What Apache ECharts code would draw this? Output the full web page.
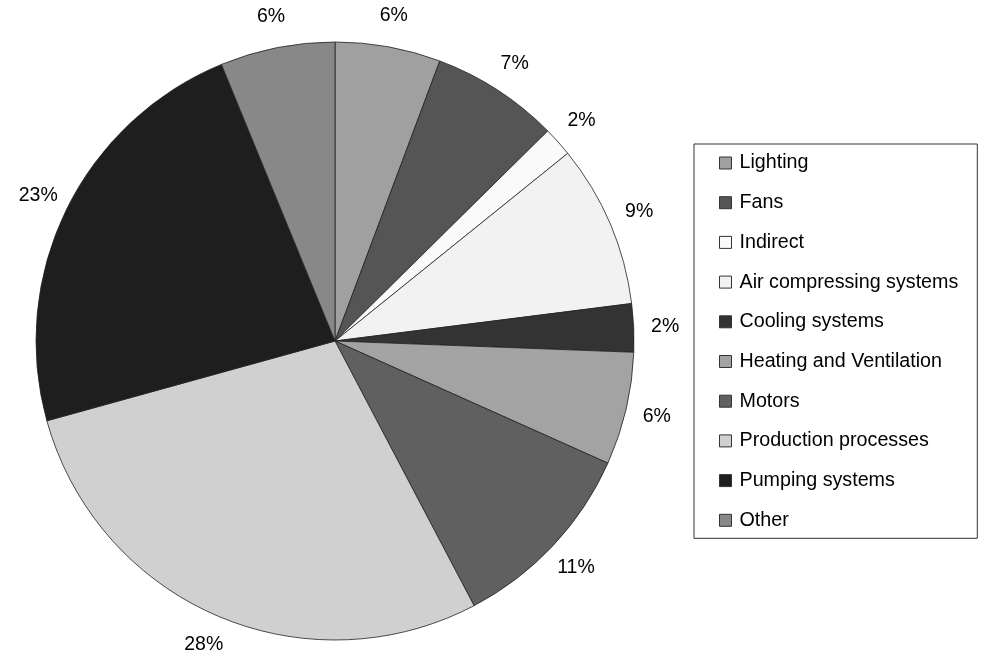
<!DOCTYPE html>
<html>
<head>
<meta charset="utf-8">
<script src="https://cdn.jsdelivr.net/npm/echarts@6/dist/echarts.min.js"></script>
<style>
  html, body { margin: 0; padding: 0; background: #fff; }
  #main { width: 988px; height: 654px; }
</style>
</head>
<body>
<div id="main"></div>
<script>
// categories and shares (percent), read clockwise from 12 o'clock
const categories = [
  "Lighting", "Fans", "Indirect", "Air compressing systems", "Cooling systems",
  "Heating and Ventilation", "Motors", "Production processes", "Pumping systems", "Other"
];
const shares = [5.7, 6.9, 1.6, 8.8, 2.6, 6.1, 10.6, 28.4, 23.1, 6.2];
const labels = ["6%", "7%", "2%", "9%", "2%", "6%", "11%", "28%", "23%", "6%"];
const greys = ["#a0a0a0", "#555555", "#fafafa", "#f2f2f2", "#333333",
               "#a3a3a3", "#606060", "#d0d0d0", "#1e1e1e", "#888888"];

const chart = echarts.init(document.getElementById("main"));

const pieData = categories.map((name, i) => ({
  name,
  value: shares[i],
  itemStyle: { color: greys[i] }
}));

// invisible ring just outside the pie, only used to place the % labels
const labelData = categories.map((name, i) => ({
  name,
  value: shares[i],
  label: { formatter: labels[i] }
}));

const option = {
  backgroundColor: "#fff",
  animation: false,
  legend: {
    orient: "vertical",
    left: 694,
    top: 144,
    padding: [9, 19, 8, 25],
    itemGap: 19.7,
    itemWidth: 12,
    itemHeight: 12,
    icon: "rect",
    data: categories,
    borderColor: "#333",
    borderWidth: 1,
    borderRadius: 0,
    itemStyle: { borderColor: "#333", borderWidth: 1 },
    textStyle: {
      fontFamily: "Liberation Sans, Arial, sans-serif",
      fontSize: 19.7,
      lineHeight: 20,
      color: "#000",
      padding: [0, 0, 0, 3]
    }
  },
  series: [
    {
      type: "pie",
      center: [335, 341],
      radius: [0, 299],
      startAngle: 90,
      clockwise: true,
      silent: true,
      itemStyle: { borderColor: "#222", borderWidth: 0.8 },
      label: { show: false },
      labelLine: { show: false },
      data: pieData
    },
    {
      type: "pie",
      center: [335, 341],
      radius: [299, 356],
      startAngle: 90,
      clockwise: true,
      silent: true,
      legendHoverLink: false,
      itemStyle: { color: "rgba(0,0,0,0)", borderWidth: 0 },
      label: {
        show: true,
        position: "inside",
        rotate: 0,
        fontFamily: "Liberation Sans, Arial, sans-serif",
        fontSize: 19.5,
        color: "#000"
      },
      labelLine: { show: false },
      data: labelData
    }
  ]
};

chart.setOption(option);
</script>
</body>
</html>
